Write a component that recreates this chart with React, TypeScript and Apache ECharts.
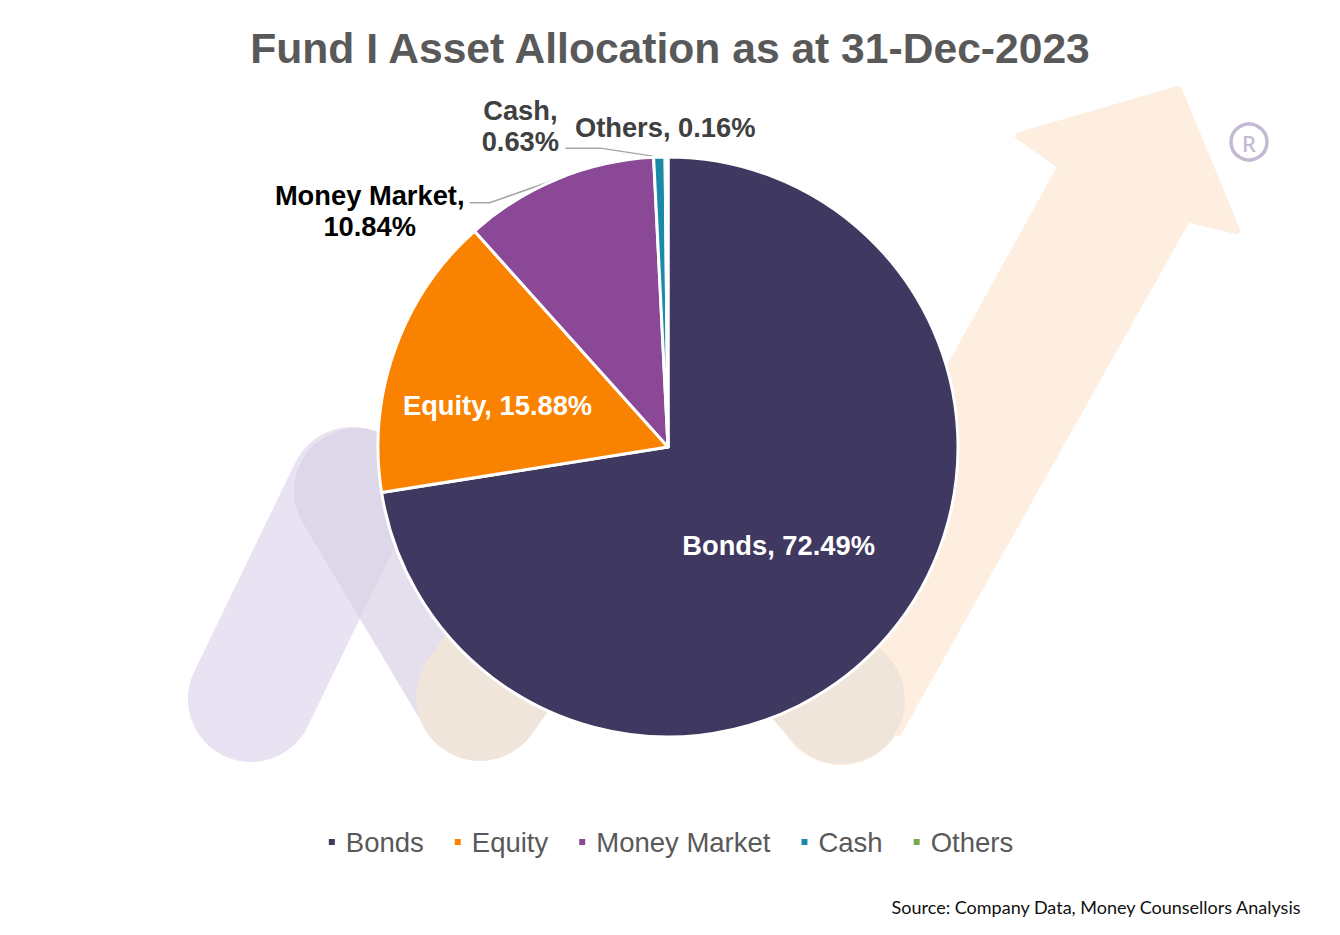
import React, { useEffect, useRef } from "react";
import * as echarts from "echarts";

// ---- data ----
const categories = ["Bonds", "Equity", "Money Market", "Cash", "Others"];
const shares = [72.49, 15.88, 10.84, 0.63, 0.16];
const chartTitle = "Fund I Asset Allocation as at 31-Dec-2023";
const sourceNote = "Source: Company Data, Money Counsellors Analysis";

// ---- styles ----
const palette = ["#3F3860", "#F98200", "#8A4897", "#1A8AA8", "#76A84C"];
const labelColors = ["#FFFFFF", "#FFFFFF", "#000000", "#404040", "#404040"];
const FONT = "'Liberation Sans', Arial, Helvetica, sans-serif";

export default function App() {
  const ref = useRef<HTMLDivElement>(null);

  useEffect(() => {
    if (!ref.current) return;
    const chart = echarts.init(ref.current, undefined, { renderer: "svg" });

    const insideIdx = [0, 1];
    const twoLineIdx = [2, 3];

    const data = categories.map((name, i) => {
      const inside = insideIdx.includes(i);
      return {
        name,
        value: shares[i],
        itemStyle: { color: palette[i] },
        label: {
          position: inside ? "inside" : "outside",
          formatter: twoLineIdx.includes(i) ? "{b},\n{d}%" : "{b}, {d}%",
          color: labelColors[i],
        },
        labelLine: { show: !inside && i !== 4 },
      };
    });

    // leader-line adjustments relative to the slice anchor computed by ECharts
    const leader: Record<number, { bend: number[]; tail: number; tx: number; ty: number }> = {
      2: { bend: [-68, 24], tail: -20, tx: -95, ty: 8 },
      3: { bend: [-59, -9], tail: -35, tx: -40, ty: -22 },
    };

    const labelLayout = (p: any) => {
      const i = p.dataIndex;
      if (i === 0) return { dx: -2, dy: 2 };
      if (i === 1) return { dx: -31, dy: 8 };
      const pts = p.labelLinePoints;
      if (leader[i] && pts && pts.length >= 3) {
        const t = leader[i];
        const a = pts[0];
        const b = [a[0] + t.bend[0], a[1] + t.bend[1]];
        const c = [b[0] + t.tail, b[1]];
        const end = pts[pts.length - 1];
        return {
          dx: c[0] - end[0] + t.tx,
          dy: c[1] - end[1] + t.ty,
          align: "center",
          labelLinePoints: [a, b, c],
        };
      }
      if (i === 4) {
        const r = p.rect;
        const lr = p.labelRect;
        return {
          dx: r.x + r.width + 86 - (lr.x + lr.width),
          dy: r.y - 28 - (lr.y + lr.height / 2),
        };
      }
      return {};
    };

    const tan = "#F0E5DA";
    const lightTan = "#FDEEE0";
    const graphic: any[] = [
      {
        type: "polygon",
        z: -10,
        silent: true,
        shape: {
          points: [
            [784, 668],
            [1062, 166],
            [1019, 136],
            [1178, 90],
            [1236, 230],
            [1187, 218],
            [898, 732],
          ],
        },
        style: { fill: lightTan, stroke: lightTan, lineWidth: 8, lineJoin: "round" },
      },
      { type: "circle", z: -10, silent: true, shape: { cx: 841, cy: 700, r: 65 }, style: { fill: lightTan } },
      {
        type: "line",
        z: -9,
        silent: true,
        shape: { x1: 640, y1: 470, x2: 841, y2: 700 },
        style: { stroke: tan, lineWidth: 128, lineCap: "round" },
      },
      {
        type: "line",
        z: -8,
        silent: true,
        shape: { x1: 251, y1: 699, x2: 352, y2: 490 },
        style: { stroke: "#E8E2F2", lineWidth: 126, lineCap: "round" },
      },
      {
        type: "line",
        z: -7,
        silent: true,
        shape: { x1: 357, y1: 491, x2: 480, y2: 697 },
        style: { stroke: "rgba(218,210,230,0.7)", lineWidth: 126, lineCap: "round" },
      },
      {
        type: "line",
        z: -6,
        silent: true,
        shape: { x1: 480, y1: 697, x2: 640, y2: 470 },
        style: { stroke: tan, lineWidth: 128, lineCap: "round" },
      },
      {
        type: "circle",
        z: -6,
        silent: true,
        shape: { cx: 1249, cy: 142, r: 18 },
        style: { fill: "none", stroke: "#C4B8D2", lineWidth: 3.5 },
      },
      {
        type: "text",
        z: -6,
        silent: true,
        x: 1249,
        y: 143,
        style: {
          text: "R",
          fill: "#C4B8D2",
          font: "500 22px 'Noto Sans', sans-serif",
          align: "center",
          verticalAlign: "middle",
        },
      },
    ];

    const option: any = {
      animation: false,
      backgroundColor: "#FFFFFF",
      title: [
        {
          text: chartTitle,
          left: "center",
          top: 21,
          textStyle: { fontFamily: FONT, fontSize: 42.6, fontWeight: "bold", color: "#595959" },
        },
        {
          text: sourceNote,
          right: 33,
          top: 893,
          textStyle: { fontFamily: "Lato, 'Noto Sans', sans-serif", fontSize: 18, fontWeight: "normal", color: "#111111" },
        },
      ],
      legend: {
        data: categories,
        left: "center",
        top: 823,
        icon: "rect",
        itemWidth: 8,
        itemHeight: 8,
        itemGap: 29,
        selectedMode: false,
        textStyle: { fontFamily: FONT, fontSize: 27.5, color: "#595959", padding: [0, 0, 0, 5] },
      },
      graphic,
      series: [
        {
          type: "pie",
          center: [668, 447],
          radius: 290,
          startAngle: 90,
          clockwise: true,
          avoidLabelOverlap: false,
          silent: true,
          itemStyle: { borderColor: "#FFFFFF", borderWidth: 3 },
          label: { fontFamily: FONT, fontSize: 27.3, fontWeight: "bold", lineHeight: 31 },
          labelLine: { length: 10, length2: 30, lineStyle: { color: "#A6A6A6", width: 1.5 } },
          labelLayout,
          data,
        },
      ],
    };

    chart.setOption(option);
    return () => chart.dispose();
  }, []);

  return (
    <div
      ref={ref}
      style={{ position: "fixed", left: 0, top: 0, width: 1340, height: 935, background: "#fff" }}
    />
  );
}
